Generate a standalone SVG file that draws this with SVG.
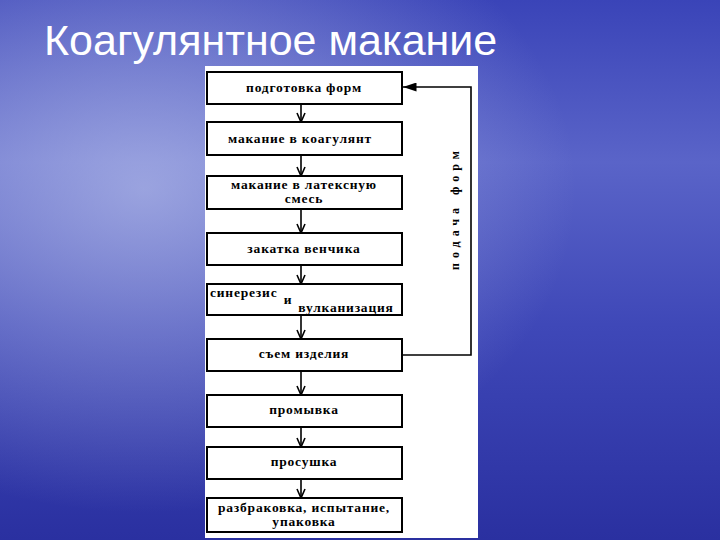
<svg xmlns="http://www.w3.org/2000/svg" width="720" height="540" viewBox="0 0 720 540">
<defs>
<linearGradient id="bg" x1="0" y1="0" x2="0" y2="1">
<stop offset="0" stop-color="#3a44b8"/><stop offset="0.3" stop-color="#5a64c8"/><stop offset="0.6" stop-color="#3f48b8"/><stop offset="1" stop-color="#2a30a0"/>
</linearGradient>
<radialGradient id="glow" cx="0.2" cy="0.35" r="0.6"><stop offset="0" stop-color="#c8d0f0" stop-opacity="0.6"/><stop offset="1" stop-color="#c8d0f0" stop-opacity="0"/></radialGradient>
<marker id="v" viewBox="0 0 10 10" refX="10" refY="5" markerWidth="10" markerHeight="10" markerUnits="userSpaceOnUse" orient="auto"><path d="M1,1 L10,5 L1,9" fill="none" stroke="#000" stroke-width="1.6"/></marker>
<marker id="t" viewBox="0 0 12 8" refX="12" refY="4" markerWidth="14" markerHeight="9" markerUnits="userSpaceOnUse" orient="auto"><path d="M0,0 L12,4 L0,8 Z" fill="#000"/></marker>
<style>
.b{fill:#fff;stroke:#000;stroke-width:2}
.t{font-family:"Liberation Serif",serif;font-weight:bold;font-size:13.5px;letter-spacing:0.8px;fill:#000;text-anchor:middle}
.s{text-anchor:start}
.c{stroke:#000;stroke-width:1.6;fill:none}
</style>
</defs>
<rect width="720" height="540" fill="url(#bg)"/>
<rect width="720" height="540" fill="url(#glow)"/>
<text x="44" y="55" font-family="Liberation Sans,sans-serif" font-size="43" fill="#fff">Коагулянтное макание</text>
<rect x="205" y="66" width="273" height="472" fill="#fff"/>
<g id="n1"><rect class="b" x="207" y="72" width="195" height="32"/><text class="t" x="304" y="92">подготовка форм</text></g>
<g id="n2"><rect class="b" x="207" y="122" width="195" height="33"/><text class="t" x="300" y="143">макание в коагулянт</text></g>
<g id="n3"><rect class="b" x="207" y="176" width="195" height="33"/><text class="t" x="304" y="189">макание в латексную</text><text class="t" x="304" y="203">смесь</text></g>
<g id="n4"><rect class="b" x="207" y="233" width="195" height="32"/><text class="t" x="304" y="253">закатка венчика</text></g>
<g id="n5"><rect class="b" x="207" y="284" width="195" height="31"/><text class="t s" x="210" y="297">синерезис</text><text class="t" x="288" y="304">и</text><text class="t" x="346" y="312">вулканизация</text></g>
<g id="n6"><rect class="b" x="207" y="339" width="195" height="32"/><text class="t" x="304" y="358">съем изделия</text></g>
<g id="n7"><rect class="b" x="207" y="395" width="195" height="32"/><text class="t" x="304" y="414">промывка</text></g>
<g id="n8"><rect class="b" x="207" y="447" width="195" height="32"/><text class="t" x="304" y="466">просушка</text></g>
<g id="n9"><rect class="b" x="207" y="498" width="195" height="34"/><text class="t" x="304" y="512">разбраковка, испытание,</text><text class="t" x="304" y="526">упаковка</text></g>
<text class="t" transform="translate(459,208) rotate(-90)" style="letter-spacing:5px;font-size:12px">подача    форм</text>
<g id="connectors">
<line class="c" x1="301" y1="104" x2="301" y2="122" marker-end="url(#v)"/>
<line class="c" x1="301" y1="155" x2="301" y2="176" marker-end="url(#v)"/>
<line class="c" x1="301" y1="209" x2="301" y2="233" marker-end="url(#v)"/>
<line class="c" x1="301" y1="265" x2="301" y2="284" marker-end="url(#v)"/>
<line class="c" x1="301" y1="315" x2="301" y2="339" marker-end="url(#v)"/>
<line class="c" x1="301" y1="371" x2="301" y2="395" marker-end="url(#v)"/>
<line class="c" x1="301" y1="427" x2="301" y2="447" marker-end="url(#v)"/>
<line class="c" x1="301" y1="479" x2="301" y2="498" marker-end="url(#v)"/>
<polyline class="c" points="402,355 471,355 471,87 403,87" marker-end="url(#t)"/>
</g>
</svg>
